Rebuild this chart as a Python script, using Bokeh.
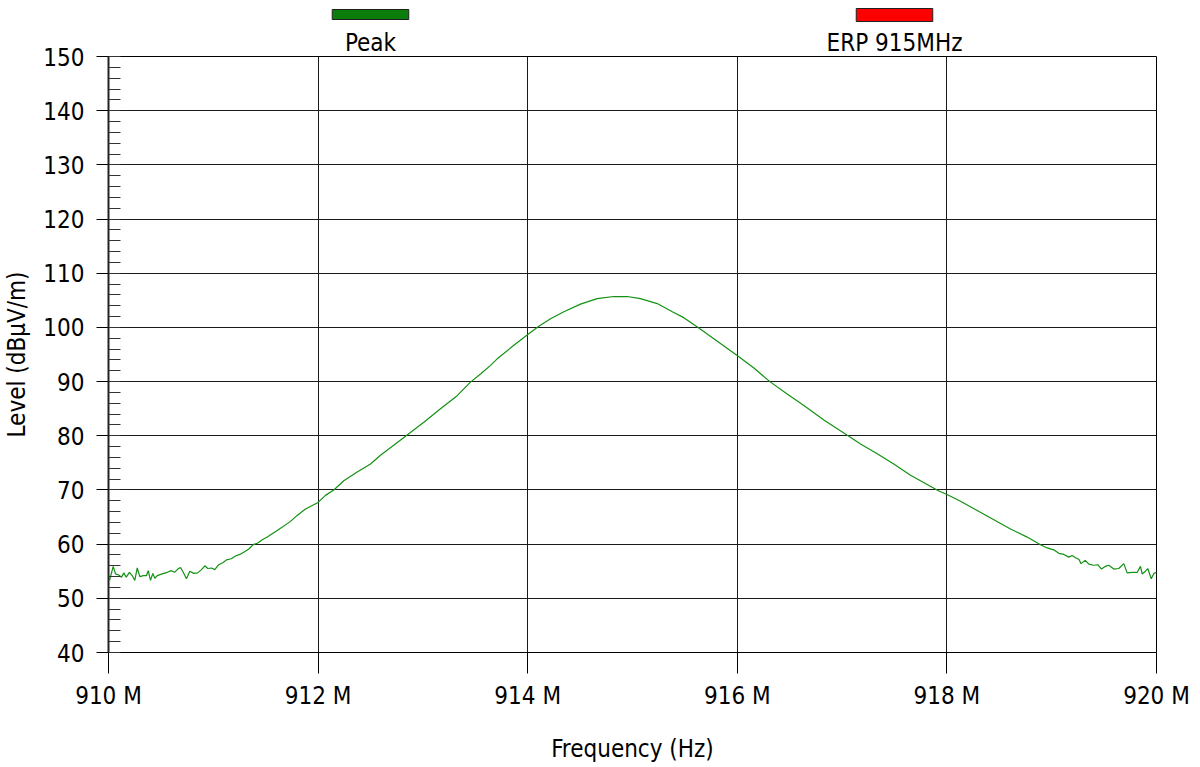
from bokeh.plotting import figure
from bokeh.layouts import column
from bokeh.models import FixedTicker, PrintfTickFormatter, Range1d, LinearAxis
from bokeh.embed import file_html
from bokeh.resources import INLINE

# Frequency (MHz) and level (dBµV/m)
freq_mhz = [
    910.01, 910.045, 910.067, 910.098, 910.124, 910.146, 910.169, 910.200, 910.226, 910.251,
    910.274, 910.299, 910.331, 910.363, 910.379, 910.401, 910.423, 910.442, 910.465, 910.512,
    910.560, 910.601, 910.630, 910.661, 910.687, 910.713, 910.744, 910.776, 910.814, 910.851,
    910.887, 910.919, 910.947, 910.983, 911.014, 911.052, 911.094, 911.126, 911.171, 911.212,
    911.253, 911.298, 911.339, 911.381, 911.425, 911.467, 911.515, 911.562, 911.61,
    911.737, 911.80, 911.88, 912.0, 912.07, 912.15, 912.245, 912.373, 912.50, 912.595,
    912.69, 912.834, 913.009, 913.168, 913.327, 913.454, 913.55, 913.645, 913.709, 913.868,
    913.995, 914.106, 914.218, 914.345, 914.504, 914.663, 914.822, 914.949, 915.076, 915.236,
    915.38, 915.489, 915.633, 915.776, 915.999, 916.158, 916.317, 916.476, 916.635, 916.826,
    917.064, 917.176, 917.335, 917.493, 917.653, 917.812, 917.923, 917.996, 918.13, 918.289,
    918.448, 918.607, 918.766, 918.893, 918.957, 919.02, 919.068, 919.116, 919.163, 919.195,
    919.227, 919.259, 919.28, 919.32, 919.354, 919.40, 919.44, 919.475, 919.513, 919.545,
    919.592, 919.64, 919.688, 919.72, 919.768, 919.816, 919.847, 919.863, 919.895, 919.917,
    919.95, 919.975, 920.0,
]
level = [
    53.3, 55.9, 54.5, 54.3, 53.9, 54.7, 53.9, 54.8, 54.2, 53.3,
    55.6, 54.0, 54.2, 54.2, 55.1, 53.3, 54.6, 53.7, 54.2, 54.5,
    54.8, 55.1, 54.8, 55.4, 55.7, 54.8, 53.6, 55.0, 54.6, 54.7,
    55.3, 56.0, 55.5, 55.6, 55.3, 56.2, 56.6, 57.1, 57.3, 57.8,
    58.1, 58.6, 59.1, 59.9, 60.2, 60.8, 61.3, 61.9, 62.5,
    64.2, 65.3, 66.5, 67.7, 69.0, 70.0, 71.7, 73.3, 74.8, 76.4,
    77.8, 79.9, 82.5, 85.0, 87.4, 89.9, 91.4, 93.0, 94.2, 96.7,
    98.6, 100.2, 101.6, 102.9, 104.3, 105.3, 105.7, 105.7, 105.3, 104.4,
    102.9, 101.8, 99.9, 97.9, 94.8, 92.5, 89.9, 87.7, 85.6, 82.9,
    79.9, 78.5, 76.7, 74.8, 72.7, 71.0, 69.8, 69.2, 67.9, 66.2,
    64.5, 62.8, 61.3, 59.9, 59.3, 58.95, 58.3, 58.1, 57.6, 57.9,
    57.5, 57.2, 56.4, 57.0, 56.3, 56.1, 56.2, 55.4, 55.9, 56.1,
    55.4, 55.5, 56.4, 54.7, 54.8, 54.8, 55.9, 54.5, 55.0, 55.5,
    53.6, 54.6, 54.8,
]

x_ticks = [910, 912, 914, 916, 918, 920]
y_ticks = [40, 50, 60, 70, 80, 90, 100, 110, 120, 130, 140, 150]
y_minor = list(range(40, 151, 2))

# legend (series names, swatch colours, centre positions on the frequency scale)
legend_names = ["Peak", "ERP 915MHz"]
legend_fill = ["#0a7d0a", "#ff0000"]
legend_center = [912.5, 917.5]

FONT = "DejaVu Sans Condensed, DejaVu Sans"
W = 1200
BL, BR = 108, 44

# --- legend swatch strip --------------------------------------------------
leg = figure(width=W, height=24, output_backend="svg", toolbar_location=None,
             x_range=Range1d(910, 920), y_range=Range1d(24, 0),
             x_axis_type=None, y_axis_type=None,
             min_border_left=BL, min_border_right=BR, min_border_top=0, min_border_bottom=0)
leg.outline_line_color = None
leg.xgrid.visible = False
leg.ygrid.visible = False
leg.background_fill_color = "white"
leg.border_fill_color = "white"
half_w = 0.365
leg.quad(left=[c - half_w for c in legend_center], right=[c + half_w for c in legend_center],
         top=[9, 8], bottom=[19, 21], fill_color=legend_fill, line_color="#202020", line_width=1)

# --- main plot --------------------------------------------------------------
p = figure(width=W, height=743, output_backend="svg", toolbar_location=None,
           x_range=Range1d(910, 920), y_range=Range1d(40, 150),
           min_border_left=BL, min_border_right=BR, min_border_top=32, min_border_bottom=115)
p.background_fill_color = "white"
p.border_fill_color = "white"
p.outline_line_color = "black"
p.outline_line_width = 1

p.line(freq_mhz, level, line_color="#129112", line_width=1.2)

xa = p.xaxis[0]
xa.ticker = FixedTicker(ticks=x_ticks, minor_ticks=[])
xa.formatter = PrintfTickFormatter(format="%d M")
xa.axis_label = "Frequency (Hz)"
xa.major_tick_out = 21
xa.major_tick_in = 0
xa.major_tick_line_color = "black"
xa.minor_tick_line_color = None
xa.axis_line_color = "black"
xa.major_label_standoff = 8
xa.axis_label_standoff = 22

ya = p.yaxis[0]
ya.ticker = FixedTicker(ticks=y_ticks, minor_ticks=y_minor)
ya.axis_label = "Level (dBµV/m)"
ya.axis_line_width = 2
ya.axis_line_color = "#222222"
ya.major_tick_out = 12
ya.major_tick_in = 0
ya.major_tick_line_color = "black"
ya.minor_tick_in = 12
ya.minor_tick_out = 0
ya.minor_tick_line_color = "#333333"
ya.major_label_standoff = 12
ya.axis_label_standoff = 9

for ax in (xa, ya):
    ax.major_label_text_font = FONT
    ax.major_label_text_font_size = "24px"
    ax.major_label_text_color = "black"
    ax.axis_label_text_font = FONT
    ax.axis_label_text_font_size = "24px"
    ax.axis_label_text_font_style = "normal"
    ax.axis_label_text_color = "black"

p.xgrid.grid_line_color = "#1a1a1a"
p.ygrid.grid_line_color = "#1a1a1a"
p.xgrid.grid_line_width = 1
p.ygrid.grid_line_width = 1

# legend names, placed above the frame under their swatches
top_axis = LinearAxis(ticker=FixedTicker(ticks=legend_center, minor_ticks=[]),
                      major_label_overrides={legend_center[i]: legend_names[i] for i in range(2)},
                      axis_line_color=None, major_tick_line_color=None, minor_tick_line_color=None,
                      major_tick_out=0, major_tick_in=0, minor_tick_out=0, minor_tick_in=0,
                      major_label_standoff=0, major_label_text_font=FONT,
                      major_label_text_font_size="24px", major_label_text_color="black")
p.add_layout(top_axis, "above")

layout = column(leg, p, spacing=0)
open("out.html", "w").write(file_html(layout, INLINE))
